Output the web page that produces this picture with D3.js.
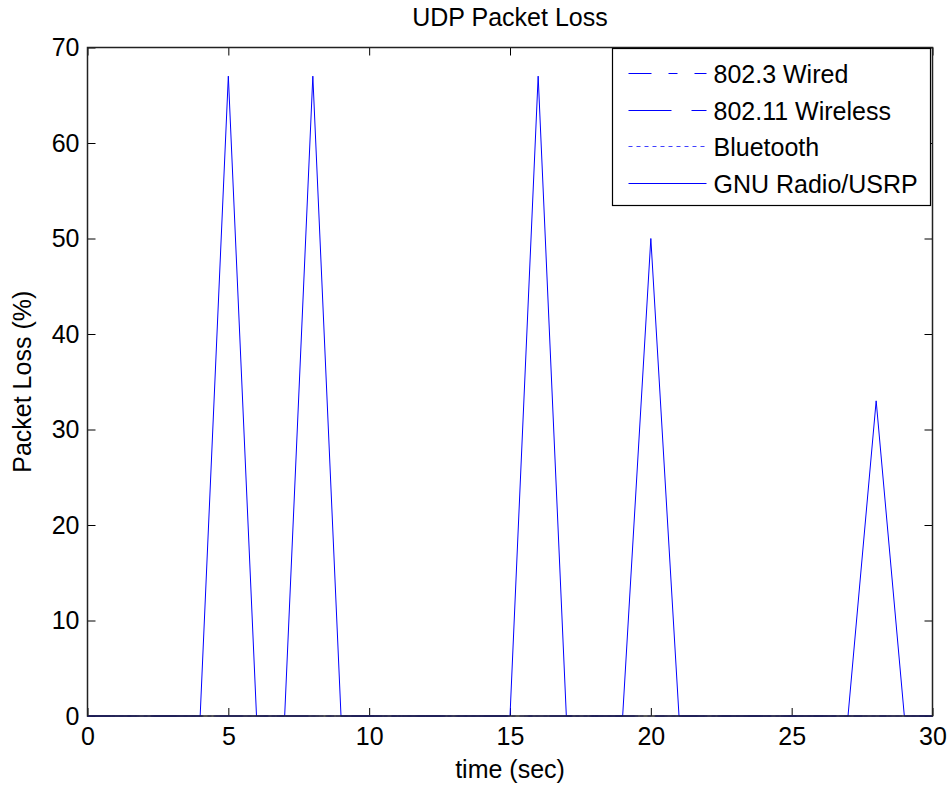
<!DOCTYPE html>
<html>
<head>
<meta charset="utf-8">
<script src="https://cdn.jsdelivr.net/npm/d3@7"></script>
<style>
  body { margin: 0; background: #fff; }
  text { font-family: "Liberation Sans", Arial, sans-serif; fill: #000; }
</style>
</head>
<body>
<script>
var time = [0, 1, 2, 3, 4, 5, 6, 7, 8, 9, 10, 11, 12, 13, 14, 15, 16, 17, 18, 19, 20, 21, 22, 23, 24, 25, 26, 27, 28, 29, 30];
var wired    = [0, 0, 0, 0, 0, 0, 0, 0, 0, 0, 0, 0, 0, 0, 0, 0, 0, 0, 0, 0, 0, 0, 0, 0, 0, 0, 0, 0, 0, 0, 0];
var wireless = [0, 0, 0, 0, 0, 0, 0, 0, 0, 0, 0, 0, 0, 0, 0, 0, 0, 0, 0, 0, 0, 0, 0, 0, 0, 0, 0, 0, 0, 0, 0];
var bluetooth = [0, 0, 0, 0, 0, 0, 0, 0, 0, 0, 0, 0, 0, 0, 0, 0, 0, 0, 0, 0, 0, 0, 0, 0, 0, 0, 0, 0, 0, 0, 0];
var gnuRadio = [0, 0, 0, 0, 0, 67, 0, 0, 67, 0, 0, 0, 0, 0, 0, 0, 67, 0, 0, 0, 50, 0, 0, 0, 0, 0, 0, 0, 33, 0, 0];
var seriesNames = ["802.3 Wired", "802.11 Wireless", "Bluetooth", "GNU Radio/USRP"];
var xTicks = [0, 5, 10, 15, 20, 25, 30];
var yTicks = [0, 10, 20, 30, 40, 50, 60, 70];

function plot_it() {
    var width = 949, height = 786;
    var margin = {top: 47.5, right: 16.5, bottom: 70, left: 87.5};
    var svg = d3.select('body').append('svg').attr('width', width).attr('height', height);

    var x = d3.scaleLinear().domain([0, 30]).range([margin.left, width - margin.right]);
    var y = d3.scaleLinear().domain([0, 70]).range([height - margin.bottom, margin.top]);

    var series = [
        {name: seriesNames[0], values: wired, dash: "23,17,9,17", color: "#0000ff"},
        {name: seriesNames[1], values: wireless, dash: "43,20", color: "#0000ff"},
        {name: seriesNames[2], values: bluetooth, dash: "4,4", color: "#4040ff"},
        {name: seriesNames[3], values: gnuRadio, dash: null, color: "#0000ff"}
    ];

    // axes with inward ticks, matlab style
    var tick = 8;
    svg.append("g").attr("transform", "translate(0," + y(0) + ")")
        .call(d3.axisBottom(x).tickValues(xTicks).tickSizeInner(-tick).tickSizeOuter(0).tickPadding(11))
        .call(function (g) { g.select(".domain").remove(); });
    svg.append("g").attr("transform", "translate(0," + y(70) + ")")
        .call(d3.axisTop(x).tickValues(xTicks).tickSizeInner(-tick).tickSizeOuter(0).tickFormat(""))
        .call(function (g) { g.select(".domain").remove(); });
    svg.append("g").attr("transform", "translate(" + x(0) + ",0)")
        .call(d3.axisLeft(y).tickValues(yTicks).tickSizeInner(-tick).tickSizeOuter(0).tickPadding(8))
        .call(function (g) { g.select(".domain").remove(); });
    svg.append("g").attr("transform", "translate(" + x(30) + ",0)")
        .call(d3.axisRight(y).tickValues(yTicks).tickSizeInner(-tick).tickSizeOuter(0).tickFormat(""))
        .call(function (g) { g.select(".domain").remove(); });

    svg.selectAll(".tick text").style("font-size", "25px").style("font-family", "Liberation Sans, Arial, sans-serif").attr("fill", "#000");
    svg.selectAll(".tick line").attr("stroke", "#000");

    var line = d3.line()
        .x(function (d, i) { return x(time[i]); })
        .y(function (d) { return y(d); });

    svg.append("g").selectAll("path.series")
        .data(series)
        .enter().append("path")
        .attr("class", "series")
        .attr("d", function (s) { return line(s.values); })
        .attr("fill", "none")
        .attr("stroke", function (s) { return s.color; })
        .attr("stroke-width", 1)
        .attr("stroke-dasharray", function (s) { return s.dash; });

    // box
    svg.append("rect")
        .attr("x", x(0)).attr("y", y(70))
        .attr("width", x(30) - x(0)).attr("height", y(0) - y(70))
        .attr("fill", "none").attr("stroke", "#222").attr("stroke-width", 1.5);

    // legend
    var lg = svg.append("g").attr("transform", "translate(612.5,48.5)");
    lg.append("rect").attr("width", 318).attr("height", 157)
        .attr("fill", "#fff").attr("stroke", "#000").attr("stroke-width", 1.2);
    var item = lg.selectAll(".item").data(series).enter().append("g")
        .attr("class", "item")
        .attr("transform", function (d, i) { return "translate(0," + Math.round(25 + i * 36.7) + ")"; });
    item.append("line").attr("x1", 16).attr("x2", 94)
        .attr("stroke", function (d) { return d.color; })
        .attr("stroke-width", 1)
        .attr("stroke-dasharray", function (d) { return d.dash; });
    item.append("text").attr("x", 101).attr("dy", "0.36em")
        .style("font-size", "25px")
        .text(function (d) { return d.name; });

    svg.append("text")
        .attr("x", (x(0) + x(30)) / 2).attr("y", 26)
        .attr("text-anchor", "middle").style("font-size", "25px")
        .text("UDP Packet Loss");

    svg.append("text")
        .attr("x", (x(0) + x(30)) / 2).attr("y", 778)
        .attr("text-anchor", "middle").style("font-size", "25px")
        .text("time (sec)");

    svg.append("text")
        .attr("transform", "translate(31," + (y(35)) + ") rotate(-90)")
        .attr("text-anchor", "middle").style("font-size", "25px")
        .text("Packet Loss (%)");
}
plot_it();
</script>
</body>
</html>
